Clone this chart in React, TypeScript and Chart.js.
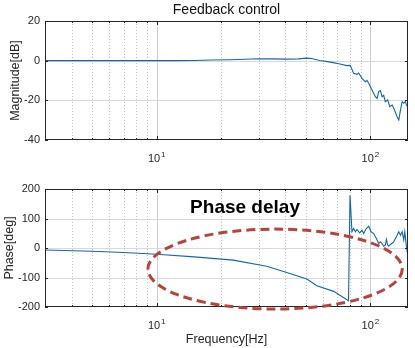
import React, { useEffect, useRef } from "react";
import { Chart, registerables } from "chart.js";

Chart.register(...registerables);
Chart.defaults.font.family = "'Liberation Sans', Arial, sans-serif";

// ---------- data ----------
const magFreq = [3, 5, 8, 12, 15, 18, 22, 26, 30, 35, 40, 46, 50.4, 53, 58, 63, 67, 72, 77.6, 80.5, 83.5, 86.6, 88.1, 91.4, 94.7, 96.5, 98.2, 101.8, 105.5, 107.5, 109.4, 111.4, 113.5, 115.4, 117.5, 120.5, 123.2, 126.5, 129.7, 133.4, 135.8, 138.3, 140.9, 143.3, 145.9, 147.5, 150];
const magDb = [0, 0, 0, 0, 0.1, 0.3, 0.5, 0.7, 1.0, 0.9, 0.8, 0.9, 1.3, 1.1, 0.1, -0.5, -1.0, -1.7, -2.5, -2.4, -6.4, -6.9, -6.2, -8.9, -10.6, -10.0, -11.4, -14.8, -18.2, -19.0, -15.6, -15.1, -18.2, -17.5, -20.7, -19.8, -23.2, -22.4, -24.9, -28.3, -29.9, -24.9, -20.7, -21.5, -20.5, -22.4, -23.5];

const phaseFreq = [3, 5, 7, 10, 15, 22.8, 32.7, 40.6, 50.4, 56.2, 67.3, 79, 80.3, 82, 83.5, 85.1, 86.6, 89.1, 91.4, 93, 95.7, 98.2, 100.8, 103.6, 106.7, 109.4, 111.4, 113.5, 115.4, 117.5, 118.9, 120.5, 121.9, 124.2, 128.6, 133.4, 135.8, 138.3, 140.9, 143.3, 144.9, 147.5, 149.6];
const phaseDeg = [-7, -11, -15, -21, -30, -41, -62, -83, -105, -128, -147, -179, 179, 55, 66, 55, 63, 51, 60, 49, 66, 74, 55, 49, 32, 15, 21, 15, 6, 10, 29, 10, 6, 12, 21, 43, 55, 43, 55, 27, 55, 4, -24];

const xRange = [3, 150];
const xMinorTicks = [4, 5, 6, 7, 8, 9, 20, 30, 40, 50, 60, 70, 80, 90];
const xMajorTicks = [10, 100];
const xMajorExponents = ["1", "2"];
const magTicks = [-40, -20, 0, 20];
const phaseTicks = [-200, -100, 0, 100, 200];

const titleText = "Feedback control";
const magLabel = "Magnitude[dB]";
const phaseLabel = "Phase[deg]";
const freqLabel = "Frequency[Hz]";

const annotationText = "Phase delay";
const annotationAt = [25.9, 138];
const ellipseFreq = [9.1, 141];
const ellipsePhase = [-207, 64];

const LINE_COLOR = "#1367a7";
const TEXT_COLOR = "#262626";

function makeDecor(o: any) {
  return {
    id: "decor",
    beforeDatasetsDraw(chart: any) {
      const { ctx, chartArea, scales } = chart;
      const { left, right, top, bottom } = chartArea;
      const x = scales.x, y = scales.y;
      ctx.save();
      ctx.lineWidth = 1;
      ctx.strokeStyle = "#dadada";
      o.yTicks.forEach((v: number) => {
        if (v === o.yTicks[0] || v === o.yTicks[o.yTicks.length - 1]) return;
        const py = Math.round(y.getPixelForValue(v)) + 0.5;
        ctx.beginPath(); ctx.moveTo(left, py); ctx.lineTo(right, py); ctx.stroke();
      });
      ctx.setLineDash([1, 2]);
      ctx.strokeStyle = "#c2c2c2";
      xMinorTicks.forEach((v) => {
        const px = Math.round(x.getPixelForValue(v)) + 0.5;
        ctx.beginPath(); ctx.moveTo(px, top); ctx.lineTo(px, bottom); ctx.stroke();
      });
      ctx.setLineDash([]);
      ctx.strokeStyle = "#cfcfcf";
      xMajorTicks.forEach((v) => {
        const px = Math.round(x.getPixelForValue(v)) + 0.5;
        ctx.beginPath(); ctx.moveTo(px, top); ctx.lineTo(px, bottom); ctx.stroke();
      });
      ctx.restore();
    },
    afterDraw(chart: any) {
      const { ctx, chartArea, scales } = chart;
      const { left, right, top, bottom } = chartArea;
      const x = scales.x, y = scales.y;
      ctx.save();
      // frame
      ctx.strokeStyle = TEXT_COLOR;
      ctx.lineWidth = 1;
      ctx.strokeRect(left + 0.5, top + 0.5, right - left - 1, bottom - top - 1);
      // tick marks
      ctx.beginPath();
      o.yTicks.forEach((v: number) => {
        const py = Math.round(y.getPixelForValue(v)) + 0.5;
        ctx.moveTo(left, py); ctx.lineTo(left + 3, py);
        ctx.moveTo(right, py); ctx.lineTo(right - 3, py);
      });
      xMinorTicks.forEach((v) => {
        const px = Math.round(x.getPixelForValue(v)) + 0.5;
        ctx.moveTo(px, bottom); ctx.lineTo(px, bottom - 2);
        ctx.moveTo(px, top); ctx.lineTo(px, top + 2);
      });
      xMajorTicks.forEach((v) => {
        const px = Math.round(x.getPixelForValue(v)) + 0.5;
        ctx.moveTo(px, bottom); ctx.lineTo(px, bottom - 4);
        ctx.moveTo(px, top); ctx.lineTo(px, top + 4);
      });
      ctx.stroke();
      // x tick labels 10^n
      ctx.fillStyle = TEXT_COLOR;
      ctx.textBaseline = "alphabetic";
      ctx.textAlign = "left";
      xMajorTicks.forEach((v, i) => {
        const px = x.getPixelForValue(v);
        ctx.font = "11px 'Liberation Sans', Arial, sans-serif";
        const w1 = ctx.measureText("10").width;
        ctx.font = "8px 'Liberation Sans', Arial, sans-serif";
        const w2 = ctx.measureText(xMajorExponents[i]).width;
        const sx = px - (w1 + w2 + 1) / 2;
        ctx.font = "11px 'Liberation Sans', Arial, sans-serif";
        ctx.fillText("10", sx, bottom + 22);
        ctx.font = "8px 'Liberation Sans', Arial, sans-serif";
        ctx.fillText(xMajorExponents[i], sx + w1 + 1, bottom + 17);
      });
      // y label
      ctx.font = "12.5px 'Liberation Sans', Arial, sans-serif";
      ctx.textAlign = "center";
      ctx.textBaseline = "middle";
      ctx.save();
      ctx.translate(o.yLabelX, (top + bottom) / 2);
      ctx.rotate(-Math.PI / 2);
      ctx.fillText(o.yLabel, 0, 0);
      ctx.restore();
      if (o.title) {
        ctx.font = "14px 'Liberation Sans', Arial, sans-serif";
        ctx.fillStyle = "#111";
        ctx.fillText(o.title, (left + right) / 2, 10);
      }
      if (o.xLabel) {
        ctx.font = "12.5px 'Liberation Sans', Arial, sans-serif";
        ctx.fillStyle = TEXT_COLOR;
        ctx.fillText(o.xLabel, (left + right) / 2, bottom + 33);
      }
      if (o.annotate) {
        const x0 = x.getPixelForValue(ellipseFreq[0]);
        const x1 = x.getPixelForValue(ellipseFreq[1]);
        const y0 = y.getPixelForValue(ellipsePhase[0]);
        const y1 = y.getPixelForValue(ellipsePhase[1]);
        ctx.strokeStyle = "#b4443c";
        ctx.lineWidth = 3;
        ctx.setLineDash([9, 5]);
        ctx.beginPath();
        ctx.ellipse((x0 + x1) / 2, (y0 + y1) / 2, Math.abs(x1 - x0) / 2, Math.abs(y1 - y0) / 2, 0, 0, Math.PI * 2);
        ctx.stroke();
        ctx.setLineDash([]);
        ctx.fillStyle = "#000";
        ctx.font = "bold 19px 'Liberation Sans', Arial, sans-serif";
        ctx.fillText(annotationText, x.getPixelForValue(annotationAt[0]), y.getPixelForValue(annotationAt[1]));
      }
      ctx.restore();
    },
  };
}

function makeConfig(freq: number[], vals: number[], yTicks: number[], padTop: number, xHeight: number, decor: any): any {
  return {
    type: "line",
    data: {
      datasets: [
        {
          data: freq.map((f, i) => ({ x: f, y: vals[i] })),
          borderColor: LINE_COLOR,
          borderWidth: 1.1,
          pointRadius: 0,
          tension: 0,
          fill: false,
        },
      ],
    },
    options: {
      responsive: false,
      animation: false,
      layout: { padding: { top: padTop, right: 7, left: 0, bottom: 0 } },
      plugins: { legend: { display: false }, tooltip: { enabled: false }, title: { display: false } },
      scales: {
        x: {
          type: "logarithmic",
          min: xRange[0],
          max: xRange[1],
          grid: { display: false, drawTicks: false },
          border: { display: false },
          ticks: { display: false },
          afterFit: (s: any) => { s.height = xHeight; },
        },
        y: {
          type: "linear",
          min: yTicks[0],
          max: yTicks[yTicks.length - 1],
          grid: { display: false, drawTicks: false },
          border: { display: false },
          ticks: {
            stepSize: yTicks[1] - yTicks[0],
            padding: 5,
            color: TEXT_COLOR,
            font: { size: 11 },
          },
          afterFit: (s: any) => { s.width = 45; },
        },
      },
    },
    plugins: [decor],
  };
}

export default function App() {
  const topRef = useRef<HTMLCanvasElement>(null);
  const botRef = useRef<HTMLCanvasElement>(null);
  useEffect(() => {
    const c1 = new Chart(
      topRef.current!,
      makeConfig(magFreq, magDb, magTicks, 21, 34, makeDecor({ yTicks: magTicks, yLabel: magLabel, yLabelX: 16, title: titleText }))
    );
    const c2 = new Chart(
      botRef.current!,
      makeConfig(phaseFreq, phaseDeg, phaseTicks, 15, 41, makeDecor({ yTicks: phaseTicks, yLabel: phaseLabel, yLabelX: 10, xLabel: freqLabel, annotate: true }))
    );
    return () => { c1.destroy(); c2.destroy(); };
  }, []);
  return (
    <div style={{ position: "absolute", left: 0, top: 0, width: 415, height: 348, background: "#fff" }}>
      <canvas ref={topRef} width={415} height={174} style={{ position: "absolute", left: 0, top: 0, display: "block" }} />
      <canvas ref={botRef} width={415} height={174} style={{ position: "absolute", left: 0, top: 174, display: "block" }} />
    </div>
  );
}
